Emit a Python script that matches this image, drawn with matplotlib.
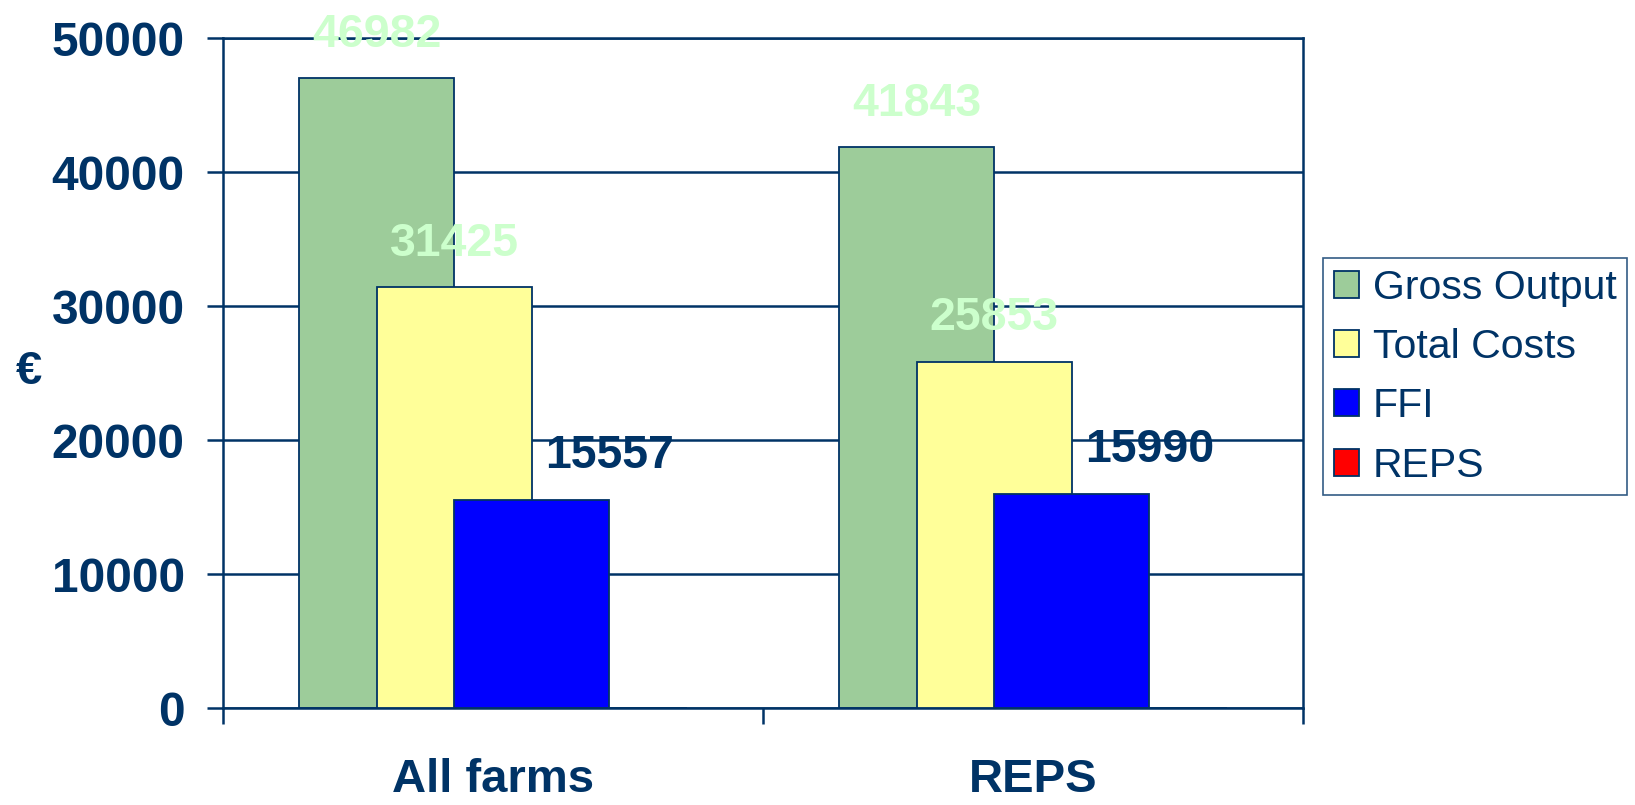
import matplotlib

matplotlib.use("Agg", force=True)

import matplotlib.pyplot as plt  # noqa: E402
import numpy as np  # noqa: E402

plt.rcParams["font.family"] = ["Liberation Sans", "DejaVu Sans"]

# data
categories = ["All farms", "REPS"]
series_names = ["Gross Output", "Total Costs", "FFI", "REPS"]
gross_output = [46982, 41843]
total_costs = [31425, 25853]
ffi = [15557, 15990]
reps = [0, 0]
y_ticks = [0, 10000, 20000, 30000, 40000, 50000]

NAVY = "#003366"
bar_colors = ["#9DCC9A", "#FFFF99", "#0000FF", "#FF0000"]
label_colors = ["#CCFFCC", "#CCFFCC", NAVY]
# the FFI value labels sit one slot to the right in the original
label_slots = [0, 1, 3]

fig = plt.figure(figsize=(16.35, 8.05), dpi=100)
ax = fig.add_axes([223 / 1635, 1 - 708 / 805, 1080 / 1635, 670 / 805])

x = np.arange(len(categories))
step = 0.1435
width = 2 * step
offsets = [(k - 1.5) * step for k in range(4)]
all_values = [gross_output, total_costs, ffi, reps]

for i, (name, vals) in enumerate(zip(series_names, all_values)):
    ax.bar(x + offsets[i], vals, width=width, color=bar_colors[i],
           edgecolor=NAVY, linewidth=1.3, label=name, zorder=2 + i)

# value labels
for i, vals in enumerate(all_values[:3]):
    for xi, v in zip(x, vals):
        ax.annotate(str(v), xy=(xi + offsets[label_slots[i]], v),
                    xytext=(0, 22.5), textcoords="offset points",
                    ha="center", va="baseline", fontsize=33.5,
                    fontweight="bold", color=label_colors[i], zorder=10,
                    annotation_clip=False)

ax.set_xlim(-0.5, 1.5)
ax.set_ylim(0, 50000)
ax.set_axisbelow(True)
ax.yaxis.grid(True, color=NAVY, linewidth=1.8)

ax.set_yticks(y_ticks)
ax.set_yticklabels([str(t) for t in y_ticks])
ax.tick_params(axis="y", direction="out", length=11.5, width=1.8,
               color=NAVY, pad=16, labelsize=34.5, labelcolor=NAVY)
for lab in ax.get_yticklabels():
    lab.set_fontweight("bold")

ax.set_xticks([-0.5, 0.5, 1.5])
ax.set_xticklabels([])
ax.set_xticks(x, minor=True)
ax.set_xticklabels(categories, minor=True)
ax.tick_params(axis="x", which="major", direction="out", length=11.5,
               width=1.8, color=NAVY)
ax.tick_params(axis="x", which="minor", length=0, pad=36, labelsize=34,
               labelcolor=NAVY)
for lab in ax.get_xticklabels(minor=True):
    lab.set_fontweight("bold")

for sp in ax.spines.values():
    sp.set_color(NAVY)
    sp.set_linewidth(1.8)

ax.set_ylabel("€", rotation=0, fontsize=34, fontweight="bold", color=NAVY,
              ha="center", va="center")
ax.yaxis.set_label_coords((29 - 223) / 1080, (708 - 372) / 670)

leg = ax.legend(loc="upper left", bbox_to_anchor=(1323 / 1635, 1 - 258 / 805),
                bbox_transform=fig.transFigure, borderaxespad=0,
                fontsize=29.5, frameon=True, fancybox=False, shadow=False,
                handlelength=0.63, handleheight=0.63, handletextpad=0.32,
                labelspacing=0.52, borderpad=0.26)
leg.get_frame().set_edgecolor(NAVY)
leg.get_frame().set_linewidth(1.2)
for t in leg.get_texts():
    t.set_color(NAVY)

fig.savefig("out.png", dpi=100)
plt.close(fig)
